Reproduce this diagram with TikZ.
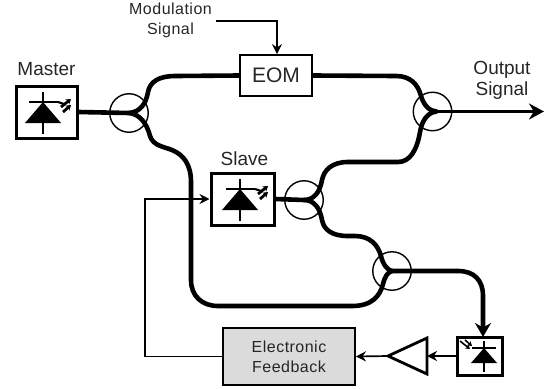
\documentclass[tikz,border=0pt]{standalone}
\usepackage{fontspec}
\setmainfont{Liberation Sans}
\usetikzlibrary{arrows.meta}
\tikzset{
  fiber/.style={line width=4.6pt},
  wire/.style={line width=1.7pt,-{Stealth[length=10pt,width=10pt]}},
  coupler/.style={draw,circle,line width=1.4pt,minimum size=38.5pt,inner sep=0pt},
  devicebox/.style={draw,line width=3pt,inner sep=0pt},
  lbl/.style={font=\fontsize{19}{21}\selectfont,align=center,text=black!85},
  smalllbl/.style={font=\fontsize{16}{20}\selectfont\addfontfeature{LetterSpace=3},align=center,text=black!85},
  laserdiode/.pic={
    \draw[line width=2.6pt] (0,-21) -- (0,21);
    \draw[line width=2.6pt] (-14,-11) -- (15,-11);
    \fill (0,-11) -- (18,10) -- (-18,10) -- cycle;
    \draw[line width=2.2pt] (15,-11) -- (21,-9);
    \draw[line width=2.8pt,-{Stealth[length=5pt,width=6.5pt]}] (18,-6) -- (28,-14);
    \draw[line width=2.8pt,-{Stealth[length=5pt,width=6.5pt]}] (20,-1) -- (28,-8);
  },
  photodiode/.pic={
    \draw[line width=2.6pt] (0,-15) -- (0,16);
    \draw[line width=2.6pt] (-12,-8) -- (12,-8);
    \fill (0,-8) -- (13,7) -- (-13,7) -- cycle;
    \draw[line width=1.6pt,-{Stealth[length=4.5pt,width=5.5pt]}] (-24,-15) -- (-14,-7);
    \draw[line width=1.6pt,-{Stealth[length=4.5pt,width=5.5pt]}] (-19,-16) -- (-12,-10);
  },
}
\begin{document}
\begin{tikzpicture}[x=1pt,y=-1pt]
  \useasboundingbox (0,0) rectangle (556,388);
  % devices
  \node[devicebox,minimum width=61pt,minimum height=52pt] (master) at (46.5,112) {};
  \node[devicebox,minimum width=63pt,minimum height=52pt] (slave) at (242.5,199) {};
  \node[devicebox,minimum width=45pt,minimum height=38pt] (detector) at (479.5,356) {};
  \node[draw,line width=1.8pt,minimum width=72pt,minimum height=41pt,inner sep=0pt,font=\fontsize{21}{24}\selectfont,text=black!85] (eom) at (276,75.5) {EOM};
  \node[draw,line width=1.8pt,fill=black!14,minimum width=132pt,minimum height=57pt,inner sep=0pt,smalllbl] (feedback) at (289,356.5) {Electronic\\Feedback};
  \pic at (43,113) {laserdiode};
  \pic at (240,200) {laserdiode};
  \pic at (484,356) {photodiode};
  \coordinate (amptip) at (388,356);
  \coordinate (ampbase) at (427,356);
  \draw[line width=2.8pt] (amptip) -- (427,338) -- (427,374) -- cycle;
  % couplers
  \node[coupler] (cplA) at (129,113) {};
  \node[coupler] (cplB) at (304,200) {};
  \node[coupler] (cplC) at (392,271) {};
  \node[coupler] (cplD) at (432.5,111.5) {};
  \coordinate (tipD) at (437,111.5);
  % fibers
  \draw[fiber] (master.east) -- (cplA.center);
  \draw[fiber] (slave.east) -- (cplB.center);
  \draw[fiber] (cplA.center) .. controls (140,112) and (146,104) .. (148,92)
    .. controls (150,82) and (158,76) .. (176,76) -- (eom.west);
  \draw[fiber] (eom.east) -- (396,76) .. controls (410,76) and (418,84) .. (421,96)
    .. controls (424,106) and (430,111.5) .. (tipD);
  \draw[fiber] (cplA.center) .. controls (140,114) and (147,124) .. (150,136)
    .. controls (153,146) and (165,147) .. (172,150)
    .. controls (184,155) and (191,165) .. (191,182) -- (191,280)
    .. controls (191,296) and (202,306) .. (218,306) -- (352,306)
    .. controls (372,306) and (380,296) .. (383,284)
    .. controls (385,276) and (388,272) .. (cplC.center);
  \draw[fiber] (cplB.center) .. controls (314,200) and (320,192) .. (322,180)
    .. controls (324,170) and (332,162) .. (348,162) -- (398,162)
    .. controls (410,162) and (417,150) .. (420,132)
    .. controls (422,120) and (428,112) .. (tipD);
  \draw[fiber] (cplB.center) .. controls (314,200) and (320,208) .. (322,220)
    .. controls (324,230) and (332,236) .. (348,236) -- (355,236)
    .. controls (370,236) and (378,245) .. (381,256)
    .. controls (383,265) and (388,270.5) .. (cplC.center);
  \draw[fiber,-{Stealth[length=14pt,width=16pt]}] (cplC.center) -- (458,271)
    .. controls (474,271) and (483,280) .. (483,296) -- (483,337);
  \draw[line width=3.6pt,-{Stealth[length=15pt,width=16pt]}] (tipD) -- (544,111.5);
  % signal lines
  \draw[wire] (detector.west) -- (ampbase);
  \draw[wire] (amptip) -- (feedback.east);
  \draw[wire] (feedback.west) -- (145,356.5) -- (145,199) -- (slave.west);
  \coordinate (modstart) at (216,21);
  \draw[wire] (modstart) -- (277,21) -- (eom.north -| 277,55);
  % labels
  \node[lbl] (masterlabel) at (46.5,69) {Master};
  \node[lbl] (slavelabel) at (244.5,159) {Slave};
  \node[lbl] (outputlabel) at (502,80) {Output\\Signal};
  \node[smalllbl] (modlabel) at (170.5,20) {Modulation\\Signal};
\end{tikzpicture}
\end{document}
